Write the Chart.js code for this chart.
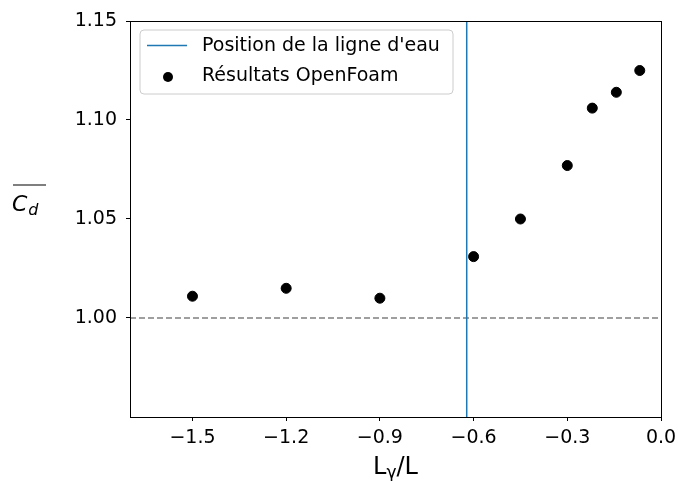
<!DOCTYPE html>
<html>
<head>
<meta charset="utf-8">
<script src="https://cdn.jsdelivr.net/npm/chart.js@4.4.0/dist/chart.umd.min.js"></script>
<style>
  html, body { margin: 0; padding: 0; background: #fff; }
  #wrap { width: 678px; height: 481px; }
</style>
</head>
<body>
<div id="wrap"><canvas id="cdChart" width="678" height="481"></canvas></div>
<script>
// Cd moyen selon la position relative Lγ/L
const posX = [-1.5, -1.2, -0.9, -0.6, -0.45, -0.3, -0.22, -0.143, -0.068];
const cdValues = [1.011, 1.015, 1.010, 1.031, 1.050, 1.077, 1.106, 1.114, 1.125];
const waterLineX = -0.622;
const refValue = 1.0;
const xTicks = [-1.5, -1.2, -0.9, -0.6, -0.3, 0.0];
const yTicks = [1.00, 1.05, 1.10, 1.15];
const xRange = [-1.7, 0.0];
const yRange = [0.95, 1.15];

const FONT = "'DejaVu Sans', sans-serif";
const BLUE = "#1f77b4";

const minus = s => s.replace("-", "\u2212");

// cadre + légende + titres d'axes
const decor = {
  id: "decor",
  afterDraw(chart) {
    const ctx = chart.ctx;
    const a = chart.chartArea;
    ctx.save();
    ctx.strokeStyle = "#000";
    ctx.lineWidth = 1;
    ctx.strokeRect(Math.round(a.left) + 0.5, Math.round(a.top) + 0.5,
      Math.round(a.right - a.left), Math.round(a.bottom - a.top));

    // légende
    const lx = 140, ly = 30, lw = 313, lh = 64, r = 4;
    ctx.beginPath();
    ctx.moveTo(lx + r, ly);
    ctx.arcTo(lx + lw, ly, lx + lw, ly + lh, r);
    ctx.arcTo(lx + lw, ly + lh, lx, ly + lh, r);
    ctx.arcTo(lx, ly + lh, lx, ly, r);
    ctx.arcTo(lx, ly, lx + lw, ly, r);
    ctx.closePath();
    ctx.fillStyle = "rgba(255,255,255,0.8)";
    ctx.fill();
    ctx.strokeStyle = "#cccccc";
    ctx.stroke();

    ctx.strokeStyle = BLUE;
    ctx.lineWidth = 1.5;
    ctx.beginPath();
    ctx.moveTo(147, 45.5);
    ctx.lineTo(187, 45.5);
    ctx.stroke();
    ctx.fillStyle = "#000";
    ctx.beginPath();
    ctx.arc(168, 77, 5, 0, Math.PI * 2);
    ctx.fill();

    ctx.font = "19px " + FONT;
    ctx.textBaseline = "middle";
    ctx.textAlign = "left";
    ctx.fillText("Position de la ligne d'eau", 202, 46);
    ctx.fillText("Résultats OpenFoam", 202, 76);

    // titre axe x : Lγ/L
    ctx.textBaseline = "alphabetic";
    const cx = (a.left + a.right) / 2;
    const partL = "L", partSub = "γ", partR = "/L";
    ctx.font = "24px " + FONT;
    const wL = ctx.measureText(partL).width;
    const wR = ctx.measureText(partR).width;
    ctx.font = "17px " + FONT;
    const wS = ctx.measureText(partSub).width;
    const x0 = cx - (wL + wS + wR) / 2;
    const base = 474;
    ctx.font = "24px " + FONT;
    ctx.fillText(partL, x0, base);
    ctx.font = "17px " + FONT;
    ctx.fillText(partSub, x0 + wL, base + 4);
    ctx.font = "24px " + FONT;
    ctx.fillText(partR, x0 + wL + wS, base);

    // titre axe y : Cd avec barre
    ctx.font = "italic 22px " + FONT;
    ctx.fillText("C", 12, 211);
    const wC = ctx.measureText("C").width;
    ctx.font = "italic 16px " + FONT;
    ctx.fillText("d", 12 + wC + 1, 215);
    ctx.lineWidth = 1.2;
    ctx.strokeStyle = "#000";
    ctx.beginPath();
    ctx.moveTo(13, 185);
    ctx.lineTo(46, 185);
    ctx.stroke();
    ctx.restore();
  }
};

new Chart(document.getElementById("cdChart"), {
  type: "scatter",
  data: {
    datasets: [
      {
        label: "Résultats OpenFoam",
        data: posX.map((x, i) => ({ x: x, y: cdValues[i] })),
        backgroundColor: "#000",
        borderColor: "#000",
        pointRadius: 5,
        pointHoverRadius: 5,
        order: 1
      },
      {
        label: "Position de la ligne d'eau",
        type: "line",
        data: [{ x: waterLineX, y: yRange[0] }, { x: waterLineX, y: yRange[1] }],
        borderColor: BLUE,
        borderWidth: 1.5,
        pointRadius: 0,
        order: 2
      },
      {
        label: "ref",
        type: "line",
        data: [{ x: xRange[0], y: refValue }, { x: xRange[1], y: refValue }],
        borderColor: "#808080",
        borderWidth: 1.5,
        borderDash: [6, 3],
        pointRadius: 0,
        order: 3
      }
    ]
  },
  options: {
    responsive: false,
    animation: false,
    layout: { padding: { top: 21, right: 17, left: 0, bottom: 0 } },
    plugins: { legend: { display: false }, tooltip: { enabled: false } },
    scales: {
      x: {
        type: "linear",
        min: xRange[0],
        max: xRange[1],
        afterBuildTicks: s => { s.ticks = xTicks.map(v => ({ value: v })); },
        afterFit: s => { s.height = 64; s.paddingLeft = 0; s.paddingRight = 0; },
        grid: { drawOnChartArea: false, drawTicks: true, tickLength: 4, color: "#000" },
        border: { color: "#000" },
        ticks: {
          color: "#000",
          padding: 6,
          font: { family: FONT, size: 19 },
          callback: v => minus(v.toFixed(1))
        }
      },
      y: {
        type: "linear",
        min: yRange[0],
        max: yRange[1],
        afterBuildTicks: s => { s.ticks = yTicks.map(v => ({ value: v })); },
        afterFit: s => { s.width = 130; s.paddingTop = 0; s.paddingBottom = 0; },
        grid: { drawOnChartArea: false, drawTicks: true, tickLength: 4, color: "#000" },
        border: { color: "#000" },
        ticks: {
          color: "#000",
          padding: 9,
          font: { family: FONT, size: 19 },
          callback: v => v.toFixed(2)
        }
      }
    }
  },
  plugins: [decor]
});
</script>
</body>
</html>
